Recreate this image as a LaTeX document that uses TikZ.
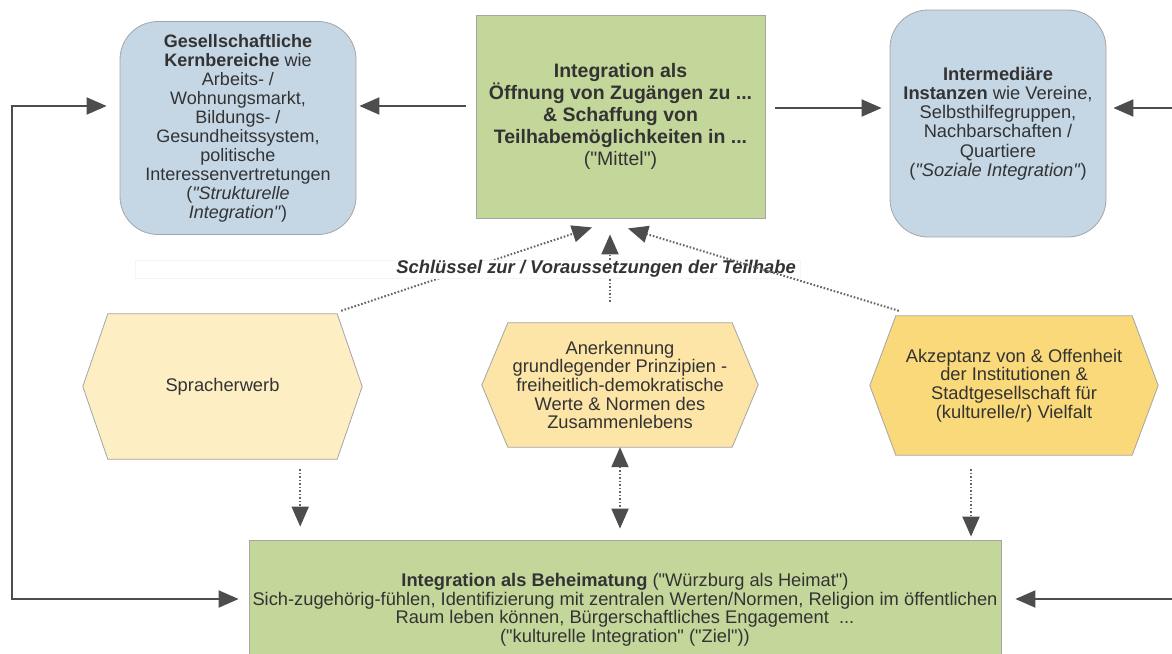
\documentclass[tikz,border=0pt]{standalone}
\usepackage{fontspec}
\setmainfont[Ligatures=TeXOff]{Liberation Sans}
\usetikzlibrary{arrows.meta}
\pgfdeclarelayer{background}
\pgfsetlayers{background,main}

\definecolor{blueF}{RGB}{197,214,229}
\definecolor{greenF}{RGB}{196,215,155}
\definecolor{hexA}{RGB}{253,238,196}
\definecolor{hexB}{RGB}{252,229,166}
\definecolor{hexC}{RGB}{249,217,121}
\definecolor{edgeC}{RGB}{165,165,165}
\definecolor{txt}{RGB}{51,51,51}
\definecolor{arrc}{RGB}{77,77,77}
\definecolor{dotc}{RGB}{100,100,100}

\tikzset{
 base/.style={font=\fontsize{18}{19}\selectfont, text=txt, align=center, inner sep=0pt},
 softbox/.style={base, draw=edgeC, fill=blueF, rounded corners=38pt, line width=0.8pt},
 greenbox/.style={base, draw=edgeC, fill=greenF, line width=0.8pt},
 hexnode/.style={base, font=\fontsize{18.3}{18.7}\selectfont},
 hexshape/.style={draw=edgeC, line width=0.8pt},
 tipA/.tip={Triangle[length=20pt,width=17pt]},
 tipD/.tip={Triangle[length=20pt,width=17pt,color=arrc]},
 conn/.style={draw=arrc, line width=2pt, -tipA},
 conn2/.style={draw=arrc, line width=2pt, tipA-tipA},
 dotconn/.style={draw=dotc, line width=2pt, dash pattern=on 1.6pt off 1.9pt, -tipD},
 dotconn2/.style={draw=dotc, line width=2pt, dash pattern=on 1.6pt off 1.9pt, tipD-tipD},
}

\begin{document}
\begin{tikzpicture}[x=1pt,y=-1pt]
\useasboundingbox (0,0) rectangle (1172,653);

% top row
\node[softbox, minimum width=236pt, minimum height=213pt] (kern) at (238,128)
 {\textbf{Gesellschaftliche}\\ \textbf{Kernbereiche} wie\\ Arbeits- /\\ Wohnungsmarkt,\\ Bildungs- /\\ Gesundheitssystem,\\ politische\\ Interessenvertretungen\\ (\textit{"Strukturelle}\\ \textit{Integration"})};
\node[greenbox, minimum width=289pt, minimum height=203pt, font=\fontsize{19.5}{22}\selectfont] (mittel) at (620.5,116.5)
 {\textbf{Integration als}\\ \textbf{Öffnung von Zugängen zu ...}\\ \textbf{\& Schaffung von}\\ \textbf{Teilhabemöglichkeiten in ...}\\ ("Mittel")};
\node[softbox, minimum width=216pt, minimum height=227pt, font=\fontsize{18.3}{19.2}\selectfont] (inter) at (998,123.5)
 {\textbf{Intermediäre}\\ \textbf{Instanzen} wie Vereine,\\ Selbsthilfegruppen,\\ Nachbarschaften /\\ Quartiere\\ (\textit{"Soziale Integration"})};

% hexagons
\node[hexnode, minimum width=229pt, minimum height=145pt] (spr) at (222.5,386.5) {Spracherwerb};
\node[hexnode, minimum width=224pt, minimum height=124pt] (anerk) at (620,385)
 {Anerkennung\\ grundlegender Prinzipien -\\ freiheitlich-demokratische\\ Werte \& Normen des\\ Zusammenlebens};
\node[hexnode, minimum width=236pt, minimum height=139pt] (akz) at (1014,385.5)
 {Akzeptanz von \& Offenheit\\ der Institutionen \&\\ Stadtgesellschaft für\\ (kulturelle/r) Vielfalt};

\begin{pgfonlayer}{background}
\path[hexshape, fill=hexA] (spr.north west) -- (spr.north east) -- ([xshift=25pt]spr.east) -- (spr.south east) -- (spr.south west) -- ([xshift=-25pt]spr.west) -- cycle;
\path[hexshape, fill=hexB] (anerk.north west) -- (anerk.north east) -- ([xshift=26pt]anerk.east) -- (anerk.south east) -- (anerk.south west) -- ([xshift=-26pt]anerk.west) -- cycle;
\path[hexshape, fill=hexC] (akz.north west) -- (akz.north east) -- ([xshift=26pt]akz.east) -- (akz.south east) -- (akz.south west) -- ([xshift=-26pt]akz.west) -- cycle;
\end{pgfonlayer}

% bottom
\node[greenbox, minimum width=752pt, minimum height=140pt, font=\fontsize{18.3}{18.5}\selectfont] (ziel) at (625,610)
 {\textbf{Integration als Beheimatung} ("Würzburg als Heimat")\\ Sich-zugehörig-fühlen, Identifizierung mit zentralen Werten/Normen, Religion im öffentlichen\\ Raum leben können, Bürgerschaftliches Engagement\ \ ...\\ ("kulturelle Integration" ("Ziel"))};

% solid connectors
\draw[conn] ([xshift=-10pt,yshift=10.5pt]mittel.west) -- ([xshift=3pt,yshift=22pt]kern.east);
\draw[conn] ([xshift=10pt,yshift=8.5pt]mittel.east) -- ([xshift=-8pt,yshift=15.5pt]inter.west);
\coordinate (rin) at (1176,108);
\draw[conn, shorten >=7pt] (rin) -- (inter.east |- rin);
\coordinate (lx) at (12,0);
\coordinate (zl) at ([xshift=-10pt,yshift=11pt]ziel.west);
\draw[conn2] ([xshift=-13pt,yshift=22pt]kern.west) -| (lx |- zl) -- (zl);
\coordinate (rzin) at (1176,599);
\draw[conn, shorten >=14pt] (rzin) -- (ziel.east |- rzin);

% dotted connectors to mittel
\draw[dotconn] ([xshift=4pt,yshift=3pt]spr.north east) -- ([xshift=-28.5pt,yshift=-9pt]mittel.south);
\draw[dotconn] ([xshift=-10pt,yshift=21pt]anerk.north) -- ([xshift=-10.5pt,yshift=-16pt]mittel.south);

% label
\node[draw=black!4, fill=white, minimum width=665pt, minimum height=18pt, inner sep=0pt] (keybg) at (467.5,269) {};
\node[text=txt, inner sep=0pt, font=\bfseries\itshape\fontsize{18.4}{19}\selectfont] (key) at (596,269) {Schlüssel zur / Voraussetzungen der Teilhabe};

\draw[dotconn] ([xshift=3pt,yshift=5pt]akz.north west) -- ([xshift=7.5pt,yshift=-10pt]mittel.south);

% dotted connectors down
\coordinate (d1) at ([xshift=-37pt,yshift=-10pt]spr.south east);
\draw[dotconn, shorten >=13pt] (d1) -- (d1 |- ziel.north);
\draw[dotconn2, shorten >=11pt] (anerk.south) -- (anerk.south |- ziel.north);
\coordinate (d3) at ([xshift=-43pt,yshift=-14pt]akz.south);
\draw[dotconn, shorten >=3pt] (d3) -- (d3 |- ziel.north);
\end{tikzpicture}
\end{document}
